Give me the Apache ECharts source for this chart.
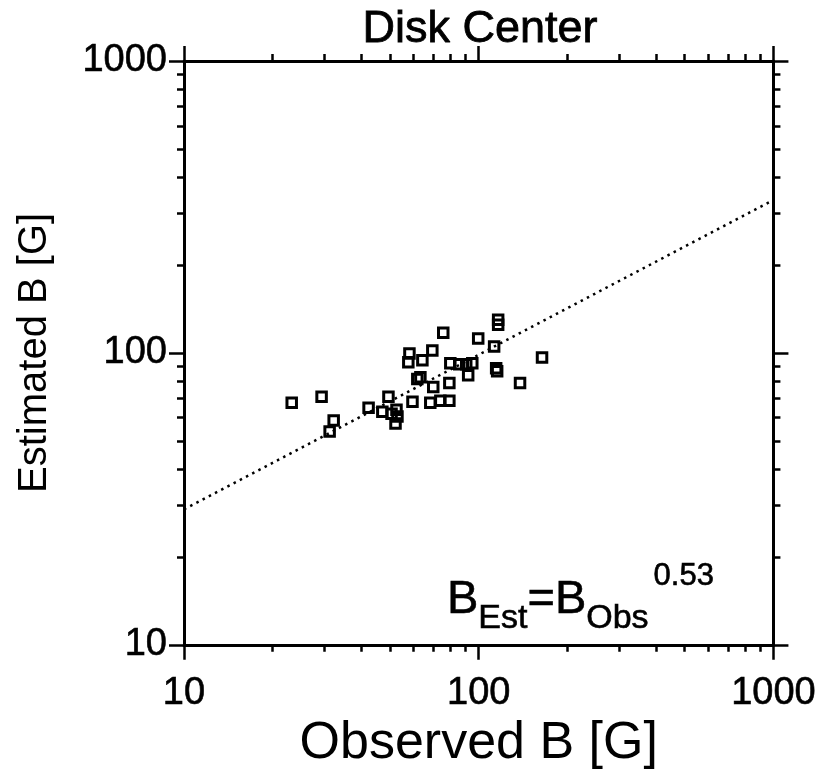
<!DOCTYPE html>
<html><head><meta charset="utf-8">
<script src="https://cdn.jsdelivr.net/npm/echarts@6/dist/echarts.min.js"></script>
<style>html,body{margin:0;padding:0;background:#fff}#c{width:819px;height:775px}</style>
</head><body><div id="c"></div>
<script>
// Observed vs estimated magnetic field (G), disk center
const observedB  = [23.2, 29.3, 32.2, 31.2, 42.3, 49.4, 47.1, 50.6, 52.6, 53.0, 52.2, 59.6, 68.5, 74.1, 79.5, 70.1, 79.5, 63.4, 61.9, 57.7, 58.2, 64.4, 69.6, 75.8, 80.1, 85.9, 90.7, 95.1, 92.1, 99.6, 112.8, 116.4, 116.4, 114.6, 115.5, 138.1, 164.0];
const estimatedB = [67.5, 70.7, 58.7, 53.8, 64.9, 70.7, 62.9, 61.9, 63.9, 60.5, 57.3, 68.0, 67.5, 68.5, 68.5, 76.4, 78.9, 82.6, 81.4, 92.9, 99.6, 94.3, 102.0, 117.3, 92.1, 91.4, 91.4, 92.1, 83.9, 112.0, 105.2, 129.8, 124.9, 88.6, 86.6, 78.9, 96.5];
// fit line B_Est = B_Obs^0.53 (endpoints)
const fitObserved  = [10, 1000];
const fitEstimated = [29.1, 334];
const axisMin = 10, axisMax = 1000;

const FONT = "'Liberation Sans', Arial, Helvetica, sans-serif";
const chart = echarts.init(document.getElementById('c'), null, {renderer: 'canvas'});

function tickLabel(margin) {
  return {show: true, color: '#000', fontFamily: FONT, fontSize: 38, margin: margin,
          textBorderColor: '#000', textBorderWidth: 0.6,
          formatter: v => String(Math.round(v))};
}
function frameAxis(pos, extra) {
  return Object.assign({
    type: 'log', logBase: 10, min: axisMin, max: axisMax, position: pos,
    axisLine: {show: true, onZero: false, lineStyle: {color: '#000', width: 3}},
    axisTick: {show: true, inside: false, length: 15, lineStyle: {color: '#000', width: 2.5}},
    minorTick: {show: true, splitNumber: 9, length: 7, lineStyle: {color: '#000', width: 2.5}},
    splitLine: {show: false}, minorSplitLine: {show: false},
    axisLabel: {show: false}
  }, extra || {});
}

const option = {
  animation: false,
  backgroundColor: '#fff',
  grid: {left: 184, top: 61, width: 591, height: 591, containLabel: false},
  xAxis: [
    frameAxis('bottom', {
      name: 'Observed B [G]', nameLocation: 'middle', nameGap: 64,
      nameTextStyle: {color: '#000', fontFamily: FONT, fontSize: 52},
      axisLabel: tickLabel(30)
    }),
    frameAxis('top')
  ],
  yAxis: [
    frameAxis('left', {
      name: 'Estimated B [G]', nameLocation: 'middle', nameGap: 129,
      nameTextStyle: {color: '#000', fontFamily: FONT, fontSize: 40},
      axisLabel: tickLabel(17)
    }),
    frameAxis('right')
  ],
  graphic: [
    {type: 'text', x: 480, y: 30, style: {text: 'Disk Center', fill: '#000', font: '45px ' + FONT, align: 'center', verticalAlign: 'middle', stroke: '#000', lineWidth: 0.8}},
    {type: 'text', x: 447, y: 600, style: {
      text: '{b|B}{sub|Est}{b|=B}{sub|Obs}{sup|0.53}', align: 'left', verticalAlign: 'middle',
      rich: {
        b:   {fontSize: 47, fontFamily: FONT, fill: '#000', stroke: '#000', lineWidth: 0.6},
        sub: {fontSize: 34, fontFamily: FONT, fill: '#000', stroke: '#000', lineWidth: 0.6, padding: [38, 0, 0, 0]},
        sup: {fontSize: 31, fontFamily: FONT, fill: '#000', stroke: '#000', lineWidth: 0.6, padding: [0, 0, 48, 5]}
      }
    }}
  ],
  series: [
    {
      type: 'line', xAxisIndex: 0, yAxisIndex: 0,
      data: fitObserved.map((x, i) => [x, fitEstimated[i]]),
      showSymbol: false, symbol: 'none', silent: true,
      lineStyle: {color: '#000', width: 2.5, type: [2.5, 4.5]}
    },
    {
      type: 'scatter', xAxisIndex: 0, yAxisIndex: 0,
      data: observedB.map((x, i) => [x, estimatedB[i]]),
      symbol: 'rect', symbolSize: 9.5, silent: true,
      itemStyle: {color: 'rgba(0,0,0,0)', borderColor: '#000', borderWidth: 3, opacity: 1},
      emphasis: {disabled: true}
    }
  ]
};
chart.setOption(option);
</script>
</body></html>
